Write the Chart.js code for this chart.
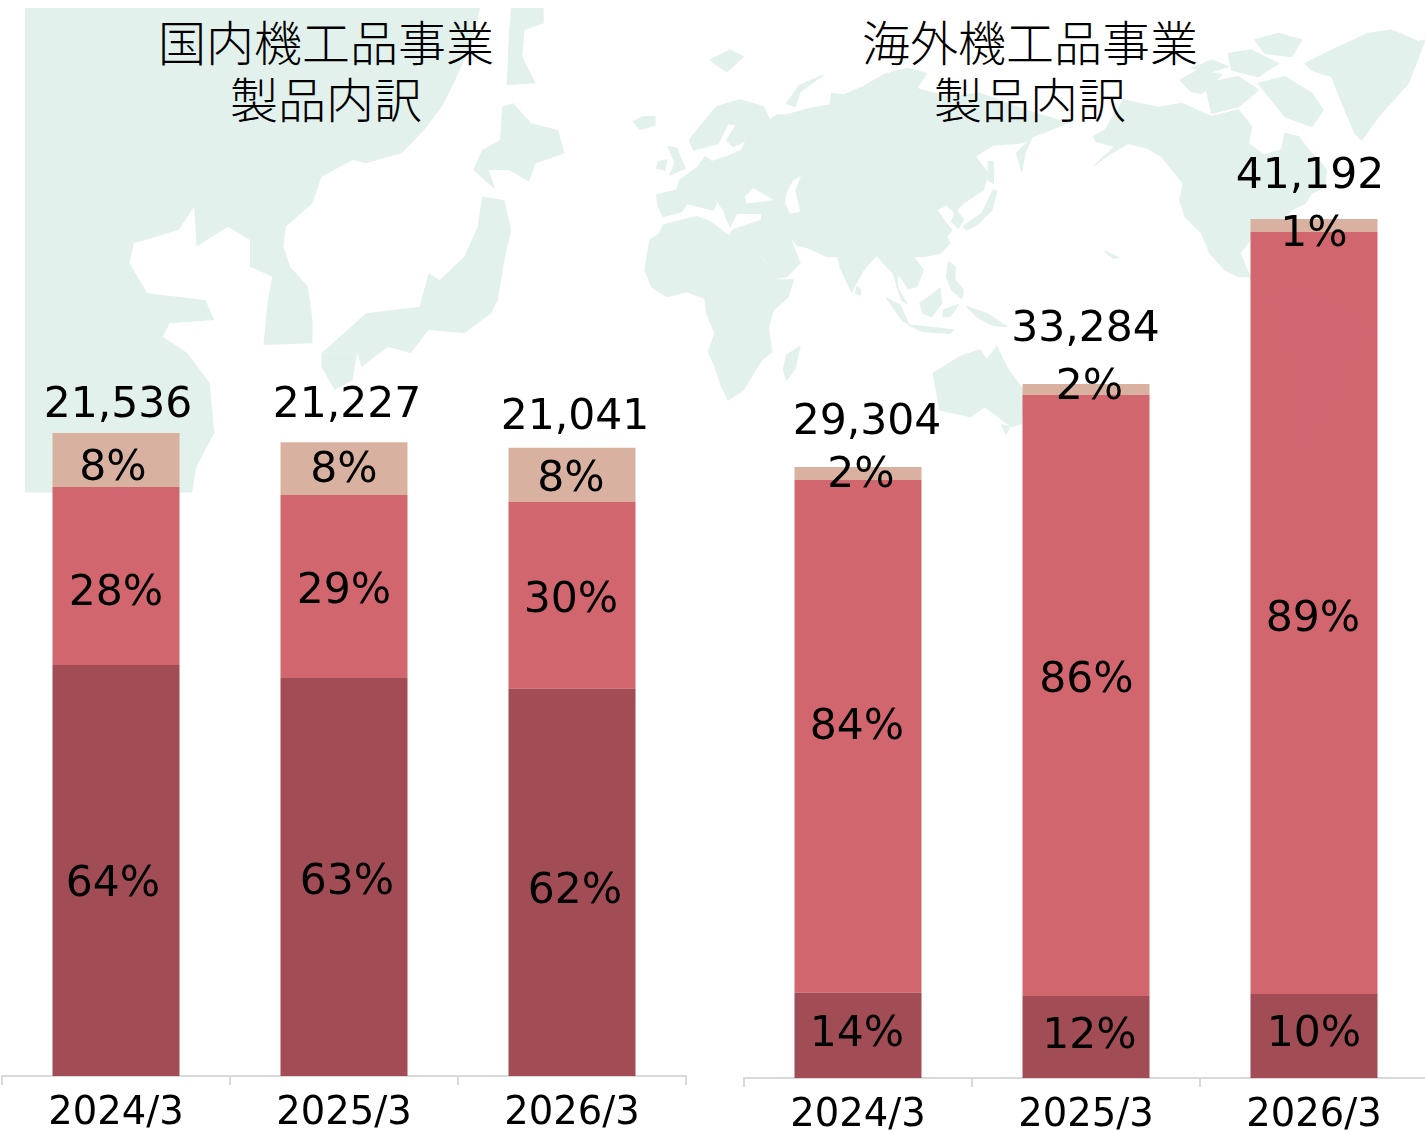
<!DOCTYPE html>
<html lang="ja">
<head>
<meta charset="utf-8">
<title>機工品事業 製品内訳</title>
<script src="https://cdn.jsdelivr.net/npm/chart.js@4"></script>
<style>
  html, body { margin: 0; background: #fff; }
  #page { position: relative; width: 1425px; height: 1132px; overflow: hidden; }
  #map, canvas, .title { position: absolute; }
  #map { left: 0; top: 0; }
  #map polygon { fill: #e3f1ec; }
  #map .world polygon { stroke: #e3f1ec; stroke-width: 4; stroke-linejoin: round; }
  #map .world polygon.hole { fill: #fff; stroke: #fff; stroke-width: 1; }
  .title { top: 12px; width: 500px; text-align: center; color: #000;
    font: 300 48px/57px "Noto Sans CJK JP", sans-serif; }
</style>
</head>
<body>
<div id="page">
  <!-- decorative map behind the bars -->
  <svg id="map" width="1425" height="1132">
    <g transform="scale(.4464 .3333)">
      <polygon points="56,24 1075,24 1060,120 1020,240 990,320 950,390 900,460 820,490 790,480 720,530 700,610 640,680 635,740 650,800 690,860 700,960 700,1030 590,1035 600,900 610,830 560,800 560,720 510,680 440,740 435,620 400,690 300,730 290,790 330,880 460,900 480,960 380,970 365,1010 420,1060 470,1150 480,1300 440,1400 430,1478 56,1478"/>
      <polygon points="1145,24 1218,24 1218,70 1175,90 1170,170 1200,250 1135,255 1140,100"/>
      <polygon points="1125,320 1150,310 1190,370 1250,390 1265,460 1200,490 1185,545 1140,510 1095,510 1110,570 1060,510 1080,450 1120,420"/>
      <polygon points="1080,590 1130,600 1145,690 1130,780 1115,900 1100,940 1040,1000 960,990 920,1060 870,1040 810,1100 800,1060 720,1060 820,940 940,920 960,820 985,840 1040,770 1070,680"/>
      <polygon points="720,1060 800,1060 790,1140 750,1170 720,1100"/>
    </g>
    <g class="world" transform="translate(630 40) scale(.3333)">
      <polygon points="85,500 80,465 140,450 150,420 205,380 225,350 245,365 290,350 335,330 350,300 310,320 290,300 320,255 295,250 265,310 230,320 190,330 178,300 210,260 260,200 330,180 400,200 420,240 440,225 470,225 540,205 600,195 605,160 640,165 700,140 760,105 830,85 890,100 860,145 950,170 1050,160 1200,215 1314,249 1206,291 1185,339 1175,395 1160,340 1200,300 1165,310 1090,315 1035,350 1055,375 1075,400 1060,450 1000,490 980,510 1000,540 985,565 965,545 975,520 950,495 920,510 945,545 965,570 950,590 960,610 930,640 880,650 850,650 880,690 860,740 835,745 805,700 800,740 830,790 815,780 790,700 770,680 740,645 700,690 665,755 630,680 625,650 590,650 540,625 500,615 475,580 510,670 470,710 440,715 400,650 375,590 300,585 310,570 395,540 395,520 320,520 300,560 280,510 240,450 260,490 250,510 170,490 155,515 100,530"/>
      <polygon points="60,600 90,580 100,555 200,530 240,545 260,560 300,590 375,590 400,660 440,720 490,720 475,770 430,810 415,860 425,935 395,960 340,1050 295,1080 275,1040 255,980 235,935 255,880 230,820 225,775 170,755 110,770 65,740 45,690"/>
      <polygon points="470,945 510,920 495,985 470,1020 460,990"/>
      <polygon points="10,245 40,230 75,230 75,255 30,268"/>
      <polygon points="240,60 300,30 340,50 290,95"/>
      <polygon points="470,190 510,135 580,105 510,155 495,200"/>
      <polygon points="115,320 140,325 165,385 120,405 135,370"/>
      <polygon points="85,365 110,360 105,390 80,385"/>
      <polygon points="680,740 693,750 690,765 678,760"/>
      <polygon points="770,775 810,795 835,850 820,845"/>
      <polygon points="835,855 970,870 960,880 880,875"/>
      <polygon points="870,790 905,765 930,745 935,790 905,830 880,820"/>
      <polygon points="940,810 985,795 960,830 940,830"/>
      <polygon points="955,665 975,680 975,720 1000,750 995,775 965,750 950,710"/>
      <polygon points="1010,800 1070,820 1130,860 1085,855 1040,830"/>
      <polygon points="1000,560 1055,520 1075,480 1090,450 1100,455 1085,510 1040,555 1010,570"/>
      <polygon points="1075,365 1090,365 1090,430 1075,420"/>
      <polygon points="910,1000 990,950 1050,930 1070,960 1100,920 1135,990 1180,1050 1175,1150 1145,1160 1065,1100 1020,1130 930,1110"/>
      <polygon points="1115,1155 1140,1160 1128,1182"/>
      <polygon class="hole" points="470,460 490,420 512,410 495,450 510,515 480,520 465,490"/>
      <polygon class="hole" points="345,470 370,445 430,480 350,490"/>
    </g>
    <g class="world" transform="translate(1025 20) scale(.3333)">
      <polygon points="205,350 240,330 295,240 400,262 470,250 560,290 640,270 680,320 670,370 715,405 770,390 780,340 820,350 860,400 905,450 900,500 860,520 840,550 800,570 760,610 675,660 645,700 675,770 640,770 600,750 555,700 530,640 480,590 465,540 475,490 410,410 370,385 310,370 250,405 210,435 270,380 215,365"/>
      <polygon points="675,770 710,790 760,830 750,860 700,820"/>
      <polygon points="750,830 810,795 870,805 950,850 1045,930 1000,1010 960,1070 950,1130 900,1200 860,1280 822,1330 810,1200 800,1060 750,960 745,900"/>
      <polygon points="465,180 520,150 590,165 530,220 500,215"/>
      <polygon points="500,145 560,120 610,140 560,155"/>
      <polygon points="610,100 680,90 760,130 700,170 620,150"/>
      <polygon points="690,60 760,40 830,60 800,110 720,100"/>
      <polygon points="540,190 640,170 700,210 640,260 560,280"/>
      <polygon points="700,190 780,170 860,220 895,270 860,320 780,290"/>
      <polygon points="840,130 920,90 1030,40 1100,30 1180,65 1200,60 1150,190 1060,290 1010,360 990,340 960,270 920,170 860,150"/>
      <polygon points="240,695 280,712 265,715"/>
    </g>
  </svg>
  <div class="title" style="left:76px">国内機工品事業<br>製品内訳</div>
  <div class="title" style="left:780px">海外機工品事業<br>製品内訳</div>
  <canvas id="domestic" style="left:0;top:0"></canvas>
  <canvas id="overseas" style="left:700px;top:0"></canvas>
</div>
<script>
// categories (fiscal year ends)
const categories = ["2024/3", "2025/3", "2026/3"];

// domestic business, stacked from the bottom
const domesticBottom = [13764, 13329, 12965];
const domesticMiddle = [5962, 6125, 6265];
const domesticTop = [1810, 1773, 1811];
const domesticTotals = ["21,536", "21,227", "21,041"];
const domesticBottomPct = ["64%", "63%", "62%"];
const domesticMiddlePct = ["28%", "29%", "30%"];
const domesticTopPct = ["8%", "8%", "8%"];

// overseas business, stacked from the bottom
const overseasBottom = [4085, 3938, 4029];
const overseasMiddle = [24595, 28818, 36547];
const overseasTop = [624, 528, 616];
const overseasTotals = ["29,304", "33,284", "41,192"];
const overseasBottomPct = ["14%", "12%", "10%"];
const overseasMiddlePct = ["84%", "86%", "89%"];
const overseasTopPct = ["2%", "2%", "1%"];

const colors = ["rgba(159,70,80,0.97)", "rgba(208,97,106,0.97)", "rgba(216,174,157,0.97)"];
const labelFont = '42.5px "DejaVu Sans", sans-serif';

// hand nudges for the labels, [dx, dy] from the middle of each segment (total: from bar top)
const domesticNudge = {
  bottom: [[-3, 14.5], [3, 6], [3, 9.5]],
  middle: [[0, 18], [0, 5.5], [-1, 5.5]],
  top: [[-3, 9], [0, 2.5], [-1, 5]],
  total: [[2, -27], [3, -36], [3, -30]],
};
const overseasNudge = {
  bottom: [[-1, -0.5], [3.5, 0], [0, -1]],
  middle: [[-1, -8], [0.5, -14], [-1, 7]],
  top: [[3, 2.5], [3.5, -1.5], [0, 9.5]],
  total: [[9, -44], [-0.5, -54], [-4, -42]],
};

// no datalabels plugin here, so the numbers are drawn after the bars
const barLabels = {
  id: "barLabels",
  afterDatasetsDraw(chart, args, opts) {
    const { ctx } = chart;
    const metas = [0, 1, 2].map((i) => chart.getDatasetMeta(i).data);
    ctx.save();
    ctx.font = labelFont;
    ctx.fillStyle = "#000";
    ctx.textAlign = "center";
    ctx.textBaseline = "middle";
    const put = (text, x, y, nudge) => ctx.fillText(text, x + nudge[0], y + nudge[1]);
    categories.forEach((c, j) => {
      ["bottom", "middle", "top"].forEach((key, i) => {
        const bar = metas[i][j];
        put(opts.pct[i][j], bar.x, (bar.y + bar.base) / 2, opts.nudge[key][j]);
      });
      put(opts.totals[j], metas[2][j].x, metas[2][j].y, opts.nudge.total[j]);
    });
    ctx.restore();
  },
};

function makeChart(id, series, pct, totals, nudge, yMax, axisHeight, padLeft, padRight) {
  return new Chart(document.getElementById(id), {
    type: "bar",
    data: {
      labels: categories,
      datasets: series.map((values, i) => ({
        data: values,
        backgroundColor: colors[i],
        categoryPercentage: 1,
        barPercentage: 0.557,
      })),
    },
    options: {
      responsive: false,
      animation: false,
      layout: { padding: { left: padLeft, right: padRight, top: 0, bottom: 0 } },
      plugins: {
        legend: { display: false },
        tooltip: { enabled: false },
        barLabels: { pct, totals, nudge },
      },
      scales: {
        x: {
          stacked: true,
          afterFit: (scale) => { scale.height = axisHeight; },
          border: { color: "#d9d9d9", width: 2 },
          grid: { offset: true, drawOnChartArea: false, color: "#d9d9d9", tickLength: 9, lineWidth: 2 },
          ticks: { color: "#000", padding: 6, font: { family: "DejaVu Sans", size: 38.5 }, maxRotation: 0 },
        },
        y: { stacked: true, display: false, min: 0, max: yMax },
      },
    },
    plugins: [barLabels],
  });
}

function sizeCanvas(id, width) {
  const c = document.getElementById(id);
  c.width = width;
  c.height = 1132;
}
sizeCanvas("domestic", 700);
sizeCanvas("overseas", 728);

makeChart("domestic",
  [domesticBottom, domesticMiddle, domesticTop],
  [domesticBottomPct, domesticMiddlePct, domesticTopPct],
  domesticTotals, domesticNudge, 36035, 56, 2, 14);
makeChart("overseas",
  [overseasBottom, overseasMiddle, overseasTop],
  [overseasBottomPct, overseasMiddlePct, overseasTopPct],
  overseasTotals, overseasNudge, 51700, 54, 44, 0);
</script>
</body>
</html>
